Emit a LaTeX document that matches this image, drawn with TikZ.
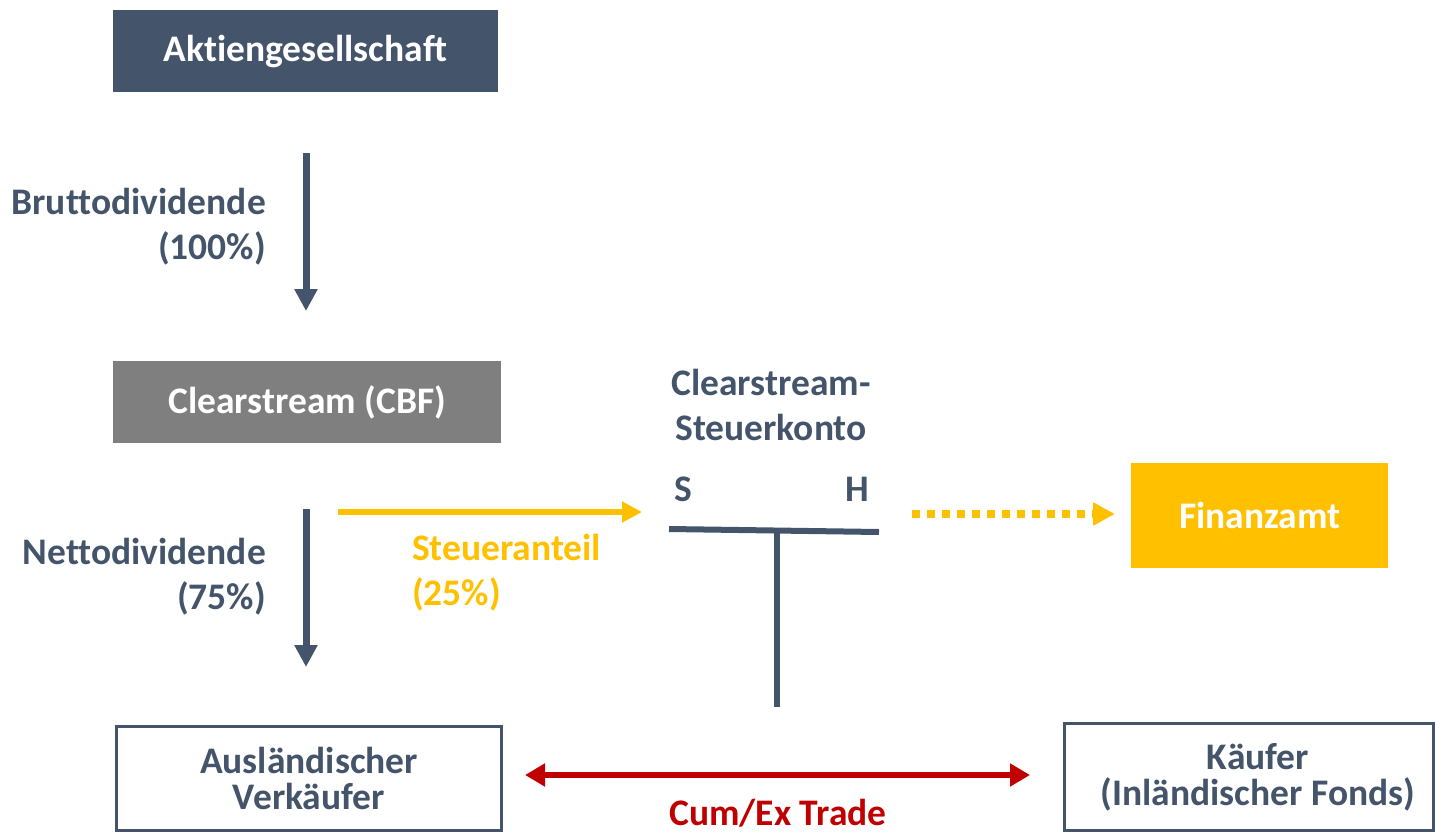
\documentclass[tikz,border=0pt]{standalone}
\usepackage{fontspec}
\setmainfont{Carlito}[Ligatures=NoCommon]
\usetikzlibrary{arrows.meta}
\definecolor{dk}{HTML}{44546A}
\definecolor{gr}{HTML}{7F7F7F}
\definecolor{gd}{HTML}{FFC000}
\definecolor{rd}{HTML}{C00000}
\begin{document}
\begin{tikzpicture}[x=1pt,y=-1pt,
  txt/.style={font=\fontsize{37.5}{45}\selectfont\bfseries, inner sep=0pt},
  btxt/.style={font=\fontsize{37.5}{36}\selectfont\bfseries, inner sep=0pt},
  fillbox/.style={txt, text=white, minimum height=82pt, align=center},
  wbox/.style={btxt, text=dk, draw=dk, line width=3pt, fill=white, align=center},
  darr/.style={draw=dk, line width=7pt, -{Triangle[width=22pt,length=22pt]}},
  garr/.style={draw=gd, line width=6pt, -{Triangle[width=20pt,length=20pt]}},
  ]
\useasboundingbox (0,0) rectangle (1435,832);
% boxes
\node[fillbox, fill=dk, minimum width=385pt, anchor=north west] (ag) at (113,10) {Aktiengesellschaft};
\node[fillbox, fill=gr, minimum width=388pt, anchor=north west] (cbf) at (113,361) {Clearstream (CBF)};
\node[fillbox, fill=gd, minimum width=257pt, minimum height=105pt, anchor=north west] (fa) at (1131,463) {Finanzamt};
\node[wbox, minimum width=385pt, minimum height=104pt, anchor=north west] (av) at (115,725) {Ausländischer\\Verkäufer};
\node[wbox, minimum width=369pt, minimum height=107pt, anchor=north west] (kf) at (1063,722) {};
\node[btxt, text=dk, align=center] (kft) at ([xshift=9pt]kf.center) {Käufer\\(Inländischer Fonds)};
% arrows
\coordinate (a1s) at (306,153); \coordinate (a1e) at (306,311);
\draw[darr] (a1s) -- (a1e);
\coordinate (a2s) at (306,509); \coordinate (a2e) at (306,667);
\draw[darr] (a2s) -- (a2e);
\node[txt, text=dk, align=right, anchor=east] (brutto) at (266,227) {Bruttodividende\\(100\%)};
\node[txt, text=dk, align=right, anchor=east] (netto) at (266,577) {Nettodividende\\(75\%)};
\coordinate (sts) at (338,512); \coordinate (ste) at (642,512);
\draw[garr] (sts) -- (ste);
\node[txt, text=gd, align=left, anchor=west] (stl) at (412,573) {Steueranteil\\(25\%)};
% T account
\node[txt, text=dk, align=center] (sk) at (771,405) {Clearstream-\\Steuerkonto};
\node[txt, text=dk] (s) at (683,489) {S};
\node[txt, text=dk] (h) at (857,489) {H};
\coordinate (tl) at (669,529); \coordinate (tr) at (879,532);
\coordinate (tm) at (777,531); \coordinate (tb) at (777,707);
\draw[dk, line width=6pt] (tl) -- (tr);
\draw[dk, line width=6pt] (tm) -- (tb);
% dotted
\coordinate (ds) at (912,514); \coordinate (de) at (1115,514);
\draw[draw=gd, line width=8pt, dash pattern=on 8pt off 7pt, -{Triangle[width=22pt,length=22pt]}] (ds) -- (de);
% red double arrow
\coordinate (rs) at (525,775); \coordinate (re) at (1030,775);
\draw[draw=rd, line width=6pt, {Triangle[width=22pt,length=20pt]}-{Triangle[width=22pt,length=20pt]}] (rs) -- (re);
\node[txt, text=rd] (cum) at (778,813) {Cum/Ex Trade};
\end{tikzpicture}
\end{document}
